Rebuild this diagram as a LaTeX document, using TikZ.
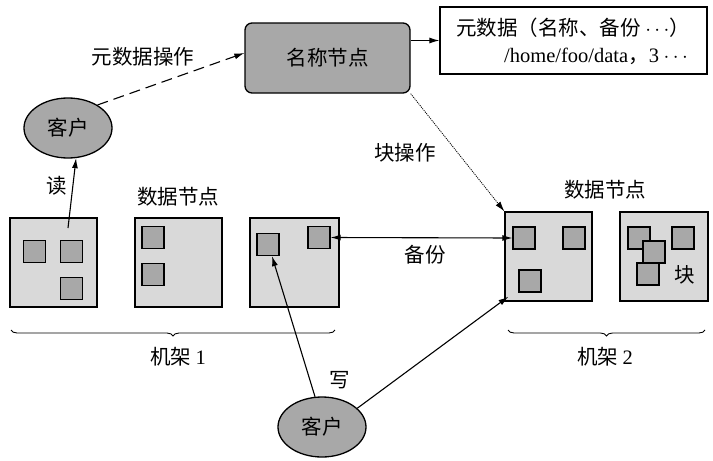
\documentclass[tikz,border=0pt]{standalone}
\usepackage{fontspec}
\setmainfont{Liberation Serif}
\newfontfamily\cjk{Noto Sans CJK SC}
\usetikzlibrary{arrows.meta,decorations.pathreplacing,shapes.geometric}
\definecolor{darkfill}{HTML}{A8A8A8}
\definecolor{lightfill}{HTML}{D9D9D9}
\begin{document}
\begin{tikzpicture}[x=1pt,y=-1pt,
  every node/.style={font=\cjk\fontsize{20.5}{24}\selectfont, inner sep=0pt},
  arr/.style={line width=1.1pt,-{Latex[length=10pt,width=6pt]}},
  nodebox/.style={draw,line width=1.3pt,fill=lightfill,minimum width=87pt,minimum height=89pt},
  blk/.style={draw,line width=1.3pt,fill=darkfill,minimum size=22pt},
  client/.style={ellipse,draw,line width=1.3pt,fill=darkfill,minimum width=88pt,minimum height=60pt},
  brc/.style={decorate,decoration={brace,mirror,amplitude=6pt},line width=0.9pt}]
\useasboundingbox (0,0) rectangle (713,461);
% name node
\node[draw,line width=1.3pt,rounded corners=7pt,fill=darkfill,minimum width=165pt,minimum height=70pt] (nn) at (327.5,58) {名称节点};
% metadata box
\node[draw,line width=1.3pt,fill=white,minimum width=267pt,minimum height=67pt] (meta) at (573.5,40.5) {};
\node[anchor=west] (m1) at (456,28) {元数据（名称、备份 $\cdots$）};
\node[anchor=east] (m2) at (688,56) {{\rmfamily /home/foo/data}，{\rmfamily 3} $\cdots$};
\draw[arr] (nn.east |- meta.west) -- (meta.west);
% clients
\node[client] (c1) at (68,128) {客户};
\node[client] (c2) at (322,427) {客户};
% data node boxes rack 1
\node[nodebox] (b1) at (53.5,262.5) {};
\node[nodebox] (b2) at (178.5,262.5) {};
\node[nodebox,minimum width=89pt] (b3) at (294.5,262.5) {};
% rack 2
\node[nodebox] (b4) at (548.5,256.5) {};
\node[nodebox,minimum width=88pt] (b5) at (664,256.5) {};
% blocks
\node[blk] (s1a) at (34.5,251.5) {};
\node[blk] (s1b) at (71.5,251.5) {};
\node[blk] (s1c) at (71.5,288.5) {};
\node[blk] (s2a) at (153,237.5) {};
\node[blk] (s2b) at (153,274.5) {};
\node[blk] (s3a) at (268,244.5) {};
\node[blk] (s3b) at (319,237.5) {};
\node[blk] (s4a) at (524,238) {};
\node[blk] (s4b) at (574,238) {};
\node[blk] (s4c) at (530,281) {};
\node[blk] (s5a) at (639,238) {};
\node[blk] (s5b) at (654,252) {};
\node[blk] (s5c) at (648,274) {};
\node[blk] (s5d) at (683,238) {};
\node (blklbl) at (685,275) {块};
% labels
\node (lmeta) at (143,57) {元数据操作};
\node (lread) at (57,186) {读};
\node (ldn1) at (178,197) {数据节点};
\node (ldn2) at (605,190) {数据节点};
\node (lblkop) at (405,153) {块操作};
\node (lrep) at (425,255) {备份};
\node (lwrite) at (340,380) {写};
\node (lr1) at (178,357) {机架 {\rmfamily 1}};
\node (lr2) at (605,357) {机架 {\rmfamily 2}};
% braces
\draw[brc] (11,330) -- (335,330);
\draw[brc] (508,330) -- (705,330);
% connectors
\coordinate (rd) at (68,228);
\draw[arr] (rd) -- (c1.-75);
\draw[arr,dash pattern=on 11pt off 6pt] (c1.38) -- ([yshift=5pt]nn.west);
\draw[arr,densely dotted,line width=0.8pt] (nn.south east) -- (b4.north west);
\draw[line width=1.1pt,{Latex[length=10pt,width=6pt]}-{Latex[length=10pt,width=6pt]}] (s3b.east) -- (s4a.west);
\draw[arr] (c2.103) -- ([xshift=4pt]s3a.south);
\draw[arr] (c2.28) -- ([xshift=-10pt,yshift=-4pt]s4c.south west);
\end{tikzpicture}
\end{document}
